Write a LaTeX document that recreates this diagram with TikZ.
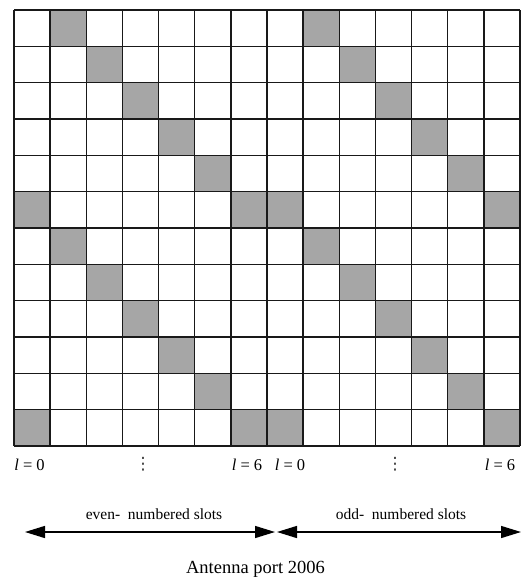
\documentclass[tikz,border=0pt]{standalone}
\usepackage{fontspec}
\setmainfont{Liberation Serif}
\newfontfamily\symfont{DejaVu Sans}
\usetikzlibrary{arrows.meta}
\definecolor{cellgray}{HTML}{A6A6A6}
\tikzset{
  gridline/.style={line width=1.4pt, draw=black!90},
  shaded/.style={fill=cellgray},
  slotarrow/.style={line width=1.4pt, {Triangle[length=20pt,width=12pt]}-{Triangle[length=20pt,width=12pt]}},
  idxlabel/.style={font=\fontsize{16.5}{18}\selectfont, inner sep=0pt},
  dotslabel/.style={font=\symfont\fontsize{17}{18}\selectfont, inner sep=0pt, text=black!80},
  slotlabel/.style={font=\fontsize{15.5}{18}\selectfont, inner sep=0pt},
  titlelabel/.style={font=\fontsize{18.5}{21}\selectfont, inner sep=0pt}
}
\begin{document}
\begin{tikzpicture}[x=1pt,y=-1pt]
\useasboundingbox (0,0) rectangle (521,581);
\def\cw{36.14}
\def\rh{36.33}
% shaded cells (col,row)
\foreach \c/\r in {1/0,8/0,2/1,9/1,3/2,10/2,4/3,11/3,5/4,12/4,0/5,6/5,7/5,13/5,
                   1/6,8/6,2/7,9/7,3/8,10/8,4/9,11/9,5/10,12/10,0/11,6/11,7/11,13/11}
  \fill[shaded] (14+\c*\cw,10+\r*\rh) rectangle (14+\c*\cw+\cw,10+\r*\rh+\rh);
% grid lines
\foreach \c in {0,...,14}
  \draw[gridline] (14+\c*\cw,10) -- (14+\c*\cw,446);
\foreach \r in {0,...,12}
  \draw[gridline] (14,10+\r*\rh) -- (520,10+\r*\rh);
% index labels
\node[idxlabel] (l0a) at (29.5,465) {\textit{l} = 0};
\node[dotslabel] (dotsa) at (143,464) {⋮};
\node[idxlabel] (l6a) at (247,465) {\textit{l} = 6};
\node[idxlabel] (l0b) at (290,465) {\textit{l} = 0};
\node[dotslabel] (dotsb) at (395,464) {⋮};
\node[idxlabel] (l6b) at (500,465) {\textit{l} = 6};
% slot labels
\node[slotlabel] (even) at (154,514) {even-\ \ numbered slots};
\node[slotlabel] (odd) at (401,514) {odd-\ \ numbered slots};
% arrows
\coordinate (a1) at (25,532);
\coordinate (a2) at (275,532);
\coordinate (b1) at (277,532);
\coordinate (b2) at (521,532);
\draw[slotarrow] (a1) -- (a2);
\draw[slotarrow] (b1) -- (b2);
% title
\node[titlelabel] (title) at (255.5,569) {Antenna port 2006};
\end{tikzpicture}
\end{document}
